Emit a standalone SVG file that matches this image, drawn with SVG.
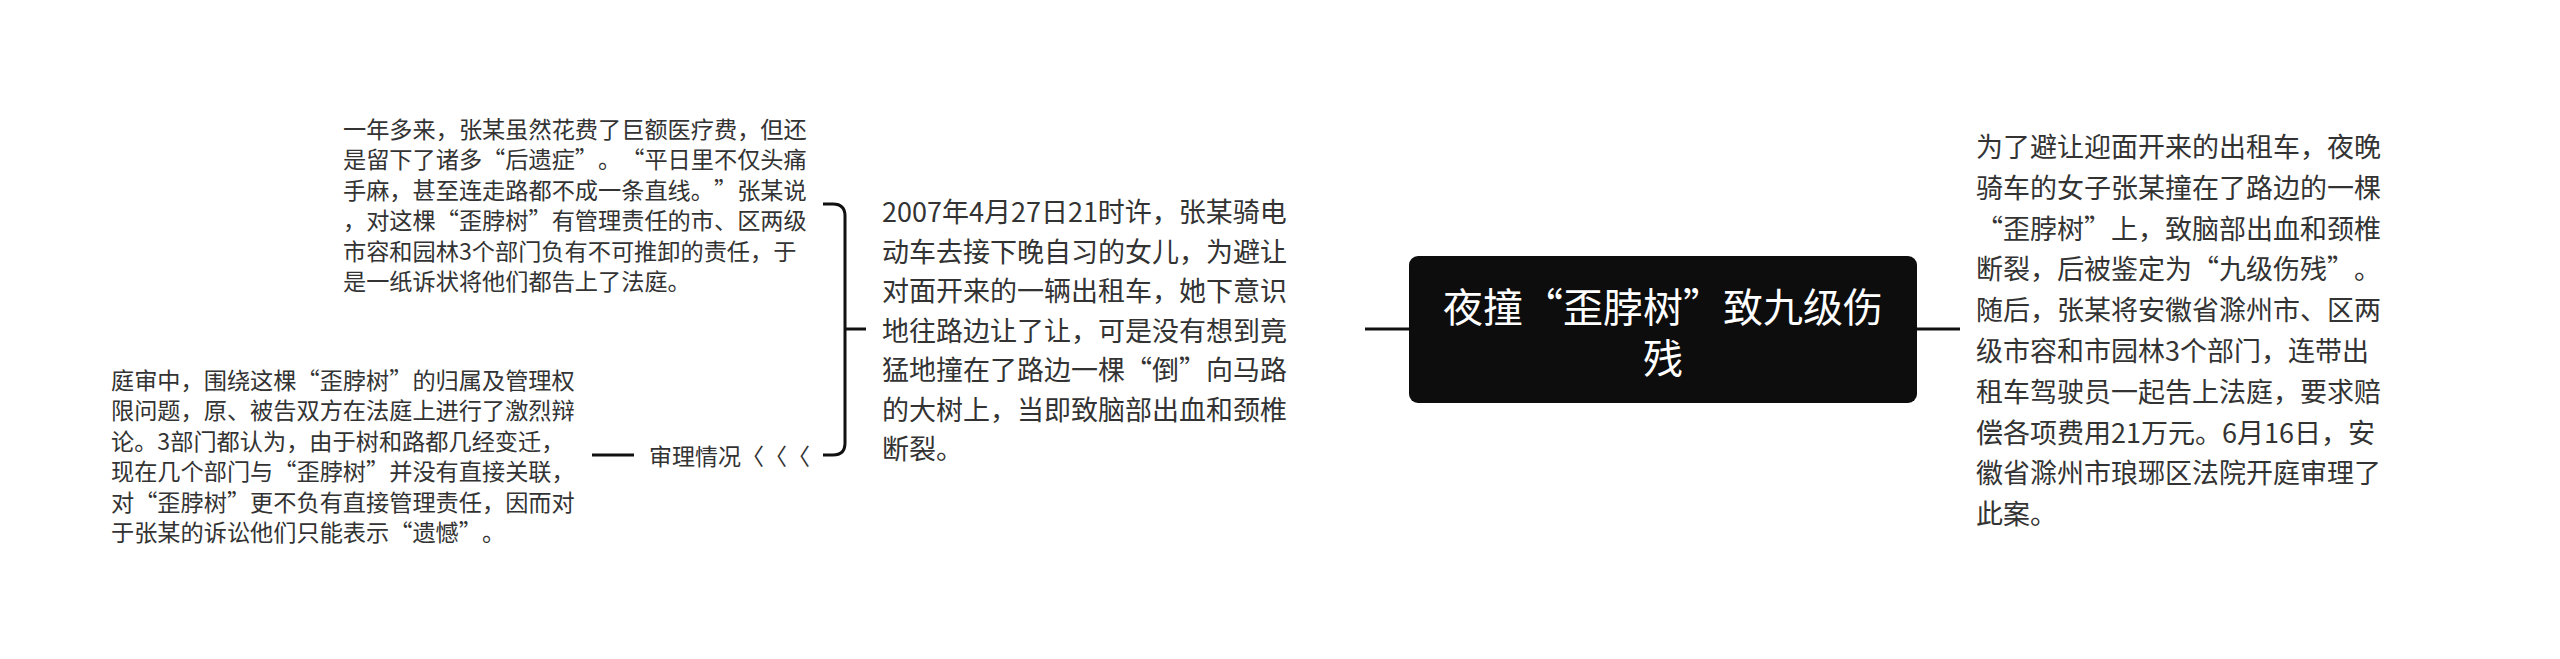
<svg xmlns="http://www.w3.org/2000/svg" width="2560" height="659" viewBox="0 0 2560 659">
<style>
.t{font-family:"Noto Sans CJK SC","Liberation Sans",sans-serif;fill:#333333;dominant-baseline:central;text-spacing-trim:space-all}
.big{font-size:27px}
.small{font-size:23.2px}
.lbl{font-size:23px}
.title{font-family:"Noto Sans CJK SC","Liberation Sans",sans-serif;fill:#ffffff;font-size:40px;dominant-baseline:central;text-anchor:middle;text-spacing-trim:space-all}
.c{fill:none;stroke:#111111;stroke-width:3;stroke-linecap:butt;stroke-linejoin:round}
</style>
<rect width="2560" height="659" fill="#ffffff"/>
<g id="connectors">
<path class="c" d="M1365,329 H1409"/>
<path class="c" d="M1917,329 H1960"/>
<path class="c" d="M823,204 H833 Q845,204 845,216 V443 Q845,455 833,455 H823"/>
<path class="c" d="M845,329 H866"/>
<path class="c" d="M592,455 H634"/>
</g>
<g id="root">
<rect x="1409" y="256" width="508" height="147" rx="9" ry="9" fill="#0d0d0d"/>
<text class="title"><tspan x="1663" y="305">夜撞“歪脖树”致九级伤</tspan><tspan x="1663" y="356">残</tspan></text>
</g>
<g id="node-right">
<text class="t big" x="1976" y="145.4">为了避让迎面开来的出租车，夜晚</text>
<text class="t big" x="1976" y="186.2">骑车的女子张某撞在了路边的一棵</text>
<text class="t big" x="1976" y="227">“歪脖树”上，致脑部出血和颈椎</text>
<text class="t big" x="1976" y="267.8">断裂，后被鉴定为“九级伤残”。</text>
<text class="t big" x="1976" y="308.6">随后，张某将安徽省滁州市、区两</text>
<text class="t big" x="1976" y="349.4">级市容和市园林3个部门，连带出</text>
<text class="t big" x="1976" y="390.2">租车驾驶员一起告上法庭，要求赔</text>
<text class="t big" x="1976" y="431">偿各项费用21万元。6月16日，安</text>
<text class="t big" x="1976" y="471.8">徽省滁州市琅琊区法院开庭审理了</text>
<text class="t big" x="1976" y="512.6">此案。</text>
</g>
<g id="node-middle">
<text class="t big" x="882" y="210.5">2007年4月27日21时许，张某骑电</text>
<text class="t big" x="882" y="250">动车去接下晚自习的女儿，为避让</text>
<text class="t big" x="882" y="289.5">对面开来的一辆出租车，她下意识</text>
<text class="t big" x="882" y="329">地往路边让了让，可是没有想到竟</text>
<text class="t big" x="882" y="368.5">猛地撞在了路边一棵“倒”向马路</text>
<text class="t big" x="882" y="408">的大树上，当即致脑部出血和颈椎</text>
<text class="t big" x="882" y="447.5">断裂。</text>
</g>
<g id="node-topleft">
<text class="t small" x="343" y="128">一年多来，张某虽然花费了巨额医疗费，但还</text>
<text class="t small" x="343" y="158.4">是留下了诸多“后遗症”。“平日里不仅头痛</text>
<text class="t small" x="343" y="188.8">手麻，甚至连走路都不成一条直线。”张某说</text>
<text class="t small" x="343" y="219.2">，对这棵“歪脖树”有管理责任的市、区两级</text>
<text class="t small" x="343" y="249.6">市容和园林3个部门负有不可推卸的责任，于</text>
<text class="t small" x="343" y="280">是一纸诉状将他们都告上了法庭。</text>
</g>
<g id="node-label">
<text class="t lbl" x="649" y="455">审理情况〈〈〈</text>
</g>
<g id="node-bottomleft">
<text class="t small" x="111" y="379">庭审中，围绕这棵“歪脖树”的归属及管理权</text>
<text class="t small" x="111" y="409.4">限问题，原、被告双方在法庭上进行了激烈辩</text>
<text class="t small" x="111" y="439.8">论。3部门都认为，由于树和路都几经变迁，</text>
<text class="t small" x="111" y="470.2">现在几个部门与“歪脖树”并没有直接关联，</text>
<text class="t small" x="111" y="500.6">对“歪脖树”更不负有直接管理责任，因而对</text>
<text class="t small" x="111" y="531">于张某的诉讼他们只能表示“遗憾”。</text>
</g>
</svg>
